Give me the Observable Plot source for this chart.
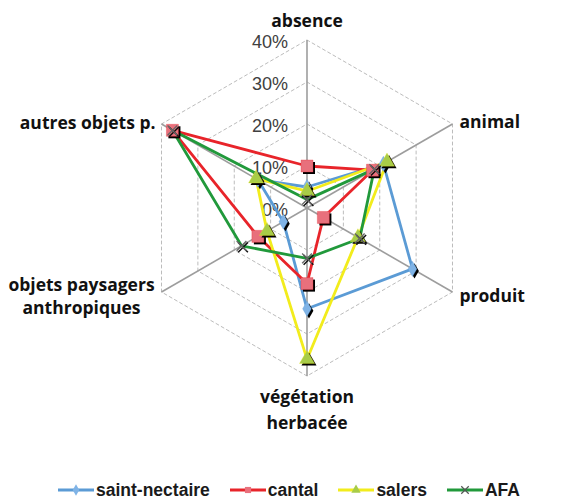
<!DOCTYPE html>
<html>
<head>
<meta charset="utf-8">
<script src="https://cdn.jsdelivr.net/npm/d3@7"></script>
<script src="https://cdn.jsdelivr.net/npm/@observablehq/plot@0.6"></script>
<style>
  body { margin: 0; background: #fff; }
  #chart svg { display: block; }
  #legend { height: 42px; display: flex; justify-content: center; align-items: center; padding-top: 18px; box-sizing: border-box; padding-left: 12px;
    font-family: "Liberation Sans", Arial, sans-serif; font-weight: bold; font-size: 17.5px; color: #1a1a1a; }
  .item { display: flex; align-items: center; margin: 0 10px; }
  .item svg { margin-right: 2px; }
</style>
</head>
<body>
<div id="chart"></div>
<div id="legend"></div>
<script>
// ---- data ----
const categories = ["absence", "animal", "produit", "végétation herbacée", "objets paysagers anthropiques", "autres objets p."];
const categoryLabels = ["absence", "animal", "produit", "végétation\nherbacée", "objets paysagers\nanthropiques", "autres objets p."];
const seriesNames = ["saint-nectaire", "cantal", "salers", "AFA"];
const saintNectaire = [5, 21, 29, 24, 6.5, 13.5];
const cantal = [10, 18, 4.5, 18, 13.5, 37];
const salers = [4, 22, 14, 36, 11, 14];
const afa = [2, 18.5, 14.5, 12, 18, 37];
const ticks = [0, 10, 20, 30, 40];
const tickLabels = ["0%", "10%", "20%", "30%", "40%"];

// ---- styles ----
const lineColors = ["#5b9bd5", "#e8242a", "#f2ec1c", "#21993b"];
const markerFills = ["#7fb3e6", "#e8707c", "#a8cc48", "#555"];
const symbols = ["diamond", "square", "triangle", "times"];
const markerR = [4.6, 6.8, 5.6, 4.5];

const values = [saintNectaire, cantal, salers, afa];
const n = categories.length;
const ang = i => i * 2 * Math.PI / n;
const px = (r, i) => r * Math.sin(ang(i));
const py = (r, i) => r * Math.cos(ang(i));
const maxR = d3.max(ticks);

// grid rings
const rings = [];
for (const t of ticks.slice(1)) for (let i = 0; i <= n; i++) rings.push({ring: t, x: px(t, i % n), y: py(t, i % n)});
// axes
const axes = categories.map((c, i) => ({x: px(maxR, i), y: py(maxR, i), i}));
// series
const pts = [];
seriesNames.forEach((s, k) => {
  for (let i = 0; i <= n; i++) pts.push({series: s, k, i: i % n, last: i === n, x: px(values[k][i % n], i % n), y: py(values[k][i % n], i % n)});
});
const markerPts = pts.filter(d => !d.last);

const W = 566, H = 460, cx = 306.5, cy = 207.5, pxPer = 4.2;

const marks = [
  Plot.line(rings, {x: "x", y: "y", z: "ring", stroke: "#bcbcbc", strokeWidth: 1, strokeDasharray: "3,3"}),
  Plot.link(axes, {x1: () => 0, y1: () => 0, x2: "x", y2: "y", stroke: "#9d9d9d", strokeWidth: 1.6}),
  Plot.text(ticks, {x: () => 0, y: d => d, text: (d, j) => tickLabels[j], textAnchor: "end", dx: -19, dy: 2,
    fontSize: 18, fill: "#404040", fontFamily: "Liberation Sans, Arial, sans-serif"}),
];
seriesNames.forEach((s, k) => {
  marks.push(Plot.line(pts.filter(d => d.k === k), {x: "x", y: "y", stroke: lineColors[k], strokeWidth: 2.8, curve: "linear"}));
});
seriesNames.forEach((s, k) => {
  const data = markerPts.filter(d => d.k === k);
  if (symbols[k] === "times") {
    marks.push(Plot.dot(data, {x: "x", y: "y", symbol: "times", r: markerR[k], stroke: "#111", strokeWidth: 1.5, dx: 1.5, dy: 1.5}));
    marks.push(Plot.dot(data, {x: "x", y: "y", symbol: "times", r: markerR[k], stroke: "#666", strokeWidth: 1.3}));
  } else {
    marks.push(Plot.dot(data, {x: "x", y: "y", symbol: symbols[k], r: markerR[k], fill: "#000", dx: 2, dy: 2}));
    marks.push(Plot.dot(data, {x: "x", y: "y", symbol: symbols[k], r: markerR[k], fill: markerFills[k], stroke: lineColors[k], strokeOpacity: 0.5, strokeWidth: 0.6}));
  }
});
// axis labels
const labelFont = {fontSize: 17.5, fontWeight: "bold", fill: "#111", fontFamily: "Open Sans, sans-serif"};
const labelOpts = [
  {textAnchor: "middle", dx: 0, dy: -19},
  {textAnchor: "start", dx: 7, dy: -2},
  {textAnchor: "start", dx: 7, dy: 4},
  {textAnchor: "middle", dx: 0, dy: 32, lineHeight: 1.45},
  {textAnchor: "middle", dx: -80, dy: 3, lineHeight: 1.3},
  {textAnchor: "end", dx: -6, dy: -1},
];
axes.forEach((a, i) => {
  marks.push(Plot.text([a], {x: "x", y: "y", text: () => categoryLabels[i], ...labelFont, ...labelOpts[i]}));
});

const chart = Plot.plot({
  width: W, height: H,
  marginTop: 0, marginRight: 0, marginBottom: 0, marginLeft: 0,
  x: {domain: [-cx / pxPer, (W - cx) / pxPer], axis: null},
  y: {domain: [-(H - cy) / pxPer, cy / pxPer], axis: null},
  style: {background: "#fff"},
  marks
});
document.getElementById("chart").appendChild(chart);

// legend
const legend = document.getElementById("legend");
seriesNames.forEach((s, k) => {
  const item = document.createElement("div");
  item.className = "item";
  const sw = d3.create("svg").attr("width", 36).attr("height", 14);
  sw.append("line").attr("x1", 0).attr("x2", 36).attr("y1", 7).attr("y2", 7).attr("stroke", lineColors[k]).attr("stroke-width", 2.8);
  const sym = {diamond: d3.symbolDiamond, square: d3.symbolSquare, triangle: d3.symbolTriangle, times: d3.symbolTimes}[symbols[k]];
  const size = 38;
  if (symbols[k] === "times") {
    sw.append("path").attr("d", d3.symbol(sym, size)()).attr("transform", "translate(18,7)").attr("fill", "none").attr("stroke", "#555").attr("stroke-width", 1.2);
  } else {
    sw.append("path").attr("d", d3.symbol(sym, size)()).attr("transform", "translate(18,7)").attr("fill", markerFills[k]);
  }
  item.appendChild(sw.node());
  const t = document.createElement("span");
  t.textContent = s;
  item.appendChild(t);
  legend.appendChild(item);
});
</script>
</body>
</html>
